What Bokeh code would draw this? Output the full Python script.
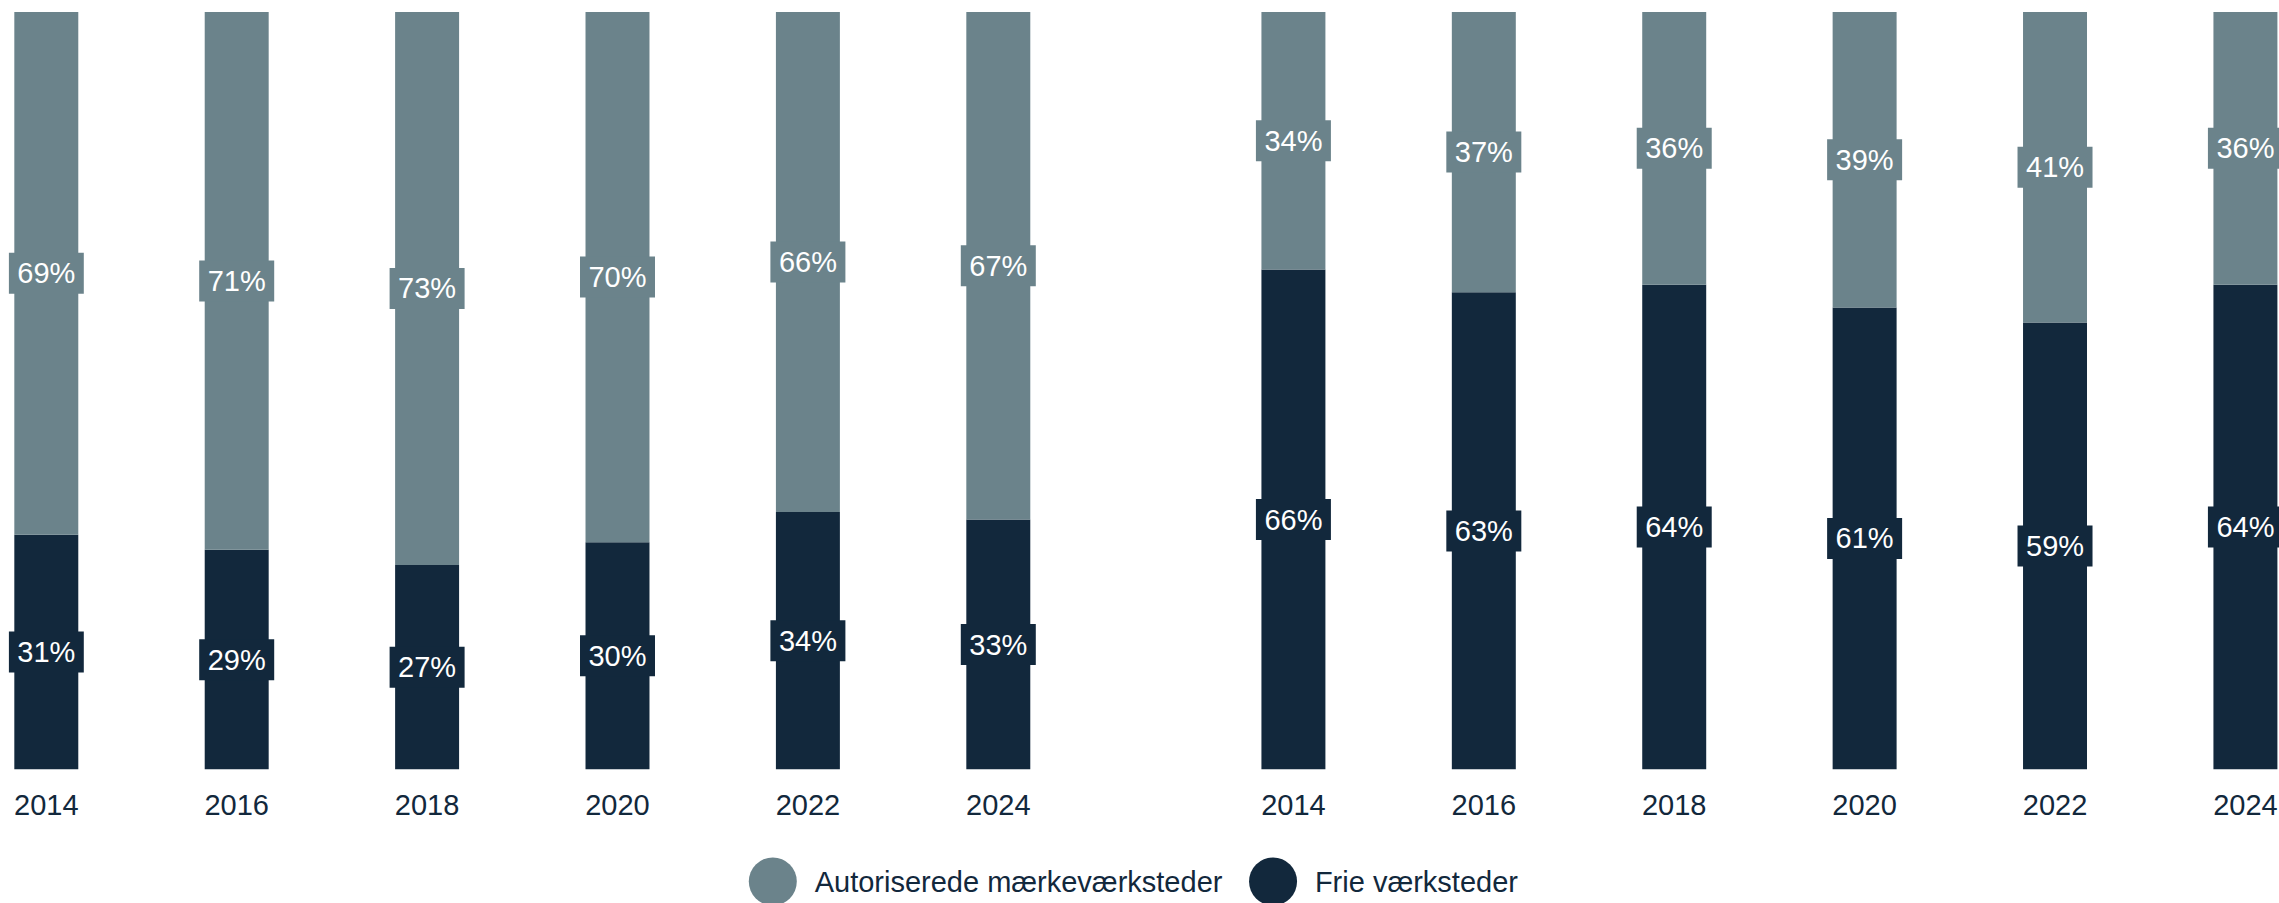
from bokeh.plotting import figure
from bokeh.models import Range1d, ColumnDataSource, FixedTicker
from bokeh.layouts import column
from bokeh.embed import file_html
from bokeh.resources import INLINE
from bokeh.core.properties import value

# ---------------- data ----------------
years = ["2014", "2016", "2018", "2020", "2022", "2024"]
left_autoriserede = [69, 71, 73, 70, 66, 67]
left_frie = [31, 29, 27, 30, 34, 33]
right_autoriserede = [34, 37, 36, 39, 41, 36]
right_frie = [66, 63, 64, 61, 59, 64]
series_names = ["Autoriserede mærkeværksteder", "Frie værksteder"]

# ---------------- style ----------------
LIGHT = "#6B838B"
DARK = "#12283C"
FONT = "Liberation Sans"
FS = "29px"
W = 2279
PAD = 8
FRAME_H = 761
MAIN_BOTTOM = 76
MAIN_H = PAD + FRAME_H + MAIN_BOTTOM
LEG_H = 58
STEP = 20            # distance between bars in data units
RIGHT_START = 131    # position of first bar in right panel
BAR_W = 6.72
PX_PER_UNIT = 9.52
BOX_W, BOX_H = 75, 41

xl = [i * STEP for i in range(len(years))]
xr = [RIGHT_START + i * STEP for i in range(len(years))]

x_start = -37.8 / PX_PER_UNIT
x_end = x_start + (W - PAD) / PX_PER_UNIT

p = figure(width=W, height=MAIN_H, x_range=Range1d(x_start, x_end),
           y_range=Range1d(0, 100.46), y_axis_location=None,
           toolbar_location=None, output_backend="svg",
           min_border_left=PAD, min_border_right=0, min_border_top=PAD,
           min_border_bottom=MAIN_BOTTOM)
p.outline_line_color = None
p.grid.grid_line_color = None
p.background_fill_color = "white"
p.border_fill_color = "white"

def add_panel(xs, aut, frie):
    tops = [f + a for f, a in zip(frie, aut)]
    p.vbar(x=xs, width=BAR_W, bottom=0, top=frie, fill_color=DARK, line_color=None)
    p.vbar(x=xs, width=BAR_W, bottom=frie, top=tops, fill_color=LIGHT, line_color=None)
    src_d = ColumnDataSource(dict(x=xs, y=[f / 2 for f in frie], t=[f"{f}%" for f in frie]))
    src_l = ColumnDataSource(dict(x=xs, y=[f + a / 2 for f, a in zip(frie, aut)], t=[f"{a}%" for a in aut]))
    for src, bg in ((src_d, DARK), (src_l, LIGHT)):
        p.rect(x="x", y="y", width=BOX_W, height=BOX_H, width_units="screen",
               height_units="screen", fill_color=bg, line_color=None, source=src)
        p.text(x="x", y="y", text="t", source=src, text_align="center",
               text_baseline="middle", text_color="white",
               text_font=value(FONT), text_font_size=FS)

add_panel(xl, left_autoriserede, left_frie)
add_panel(xr, right_autoriserede, right_frie)

p.xaxis.ticker = FixedTicker(ticks=xl + xr)
p.xaxis.major_label_overrides = {x: y for x, y in zip(xl + xr, years + years)}
p.xaxis.axis_line_color = None
p.xaxis.major_tick_line_color = None
p.xaxis.minor_tick_line_color = None
p.xaxis.major_tick_out = 0
p.xaxis.major_label_standoff = 25
p.xaxis.major_label_text_font = FONT
p.xaxis.major_label_text_font_size = FS
p.xaxis.major_label_text_color = DARK

# ---------------- legend ----------------
leg = figure(width=W, height=LEG_H, x_range=Range1d(0, W), y_range=Range1d(0, LEG_H),
             x_axis_location=None, y_axis_location=None,
             toolbar_location=None, output_backend="svg", min_border=0)
leg.outline_line_color = None
leg.grid.grid_line_color = None
circle_x = [767, 1269]
cy = 22
leg.scatter(x=circle_x, y=[cy, cy], size=48, fill_color=[LIGHT, DARK], line_color=None)
leg.text(x=[c + 42 for c in circle_x], y=[cy, cy], text=series_names,
         text_font=value(FONT), text_font_size=FS, text_baseline="middle",
         text_align="left", text_color=DARK)

layout = column(p, leg, spacing=0)
open("out.html", "w").write(file_html(layout, INLINE))
